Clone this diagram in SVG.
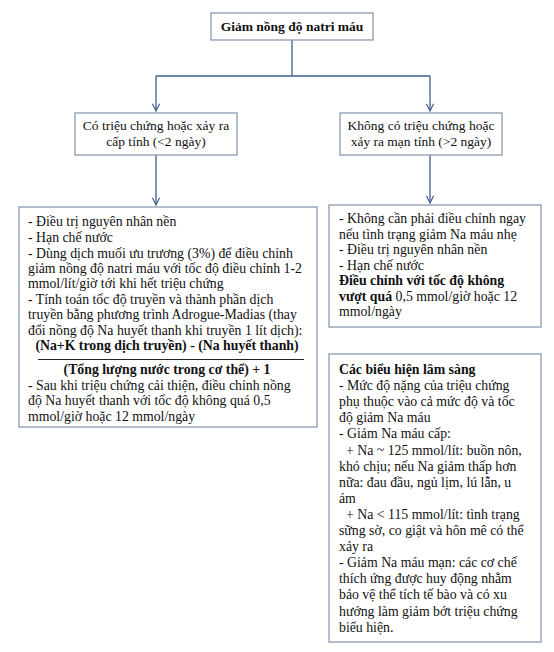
<svg xmlns="http://www.w3.org/2000/svg" width="554" height="652" viewBox="0 0 554 652">
<style>
.box{fill:#fff;stroke:#8a9ab0;stroke-width:1.3}
.t{font-family:"Liberation Serif","Times New Roman","DejaVu Serif",serif;font-size:13.8px;fill:#111}
.h{font-size:13.5px}
.b{font-weight:bold}
.c{text-anchor:middle}
.ln{fill:none;stroke:#3f5f8f;stroke-width:1.3}
</style>
<defs>
<marker id="ar" viewBox="0 0 10 10" refX="9" refY="5" markerWidth="9" markerHeight="9" markerUnits="userSpaceOnUse" orient="auto">
<path d="M1,1 L9,5 L1,9" fill="none" stroke="#3f5f8f" stroke-width="1.3"/>
</marker>
</defs>
<rect width="554" height="652" fill="#fff"/>
<g id="connectors">
<path class="ln" d="M292,39 V76 M156,76 H430"/>
<path class="ln" d="M156,76 V111" marker-end="url(#ar)"/>
<path class="ln" d="M430,76 V111" marker-end="url(#ar)"/>
<path class="ln" d="M156,155 V205" marker-end="url(#ar)"/>
<path class="ln" d="M430,155 V203" marker-end="url(#ar)"/>
</g>
<g id="root">
<rect class="box" x="211" y="13" width="162" height="27"/>
<text class="t h b c" x="292" y="31">Giảm nồng độ natri máu</text>
</g>
<g id="acute">
<rect class="box" x="75" y="113" width="162" height="42"/>
<text class="t h c" x="156" y="130">Có triệu chứng hoặc xảy ra</text>
<text class="t h c" x="156" y="146">cấp tính (&lt;2 ngày)</text>
</g>
<g id="chronic">
<rect class="box" x="340" y="113" width="162" height="42"/>
<text class="t h c" x="421" y="130">Không có triệu chứng hoặc</text>
<text class="t h c" x="421" y="146">xảy ra mạn tính (&gt;2 ngày)</text>
</g>
<g id="acute-treatment">
<rect class="box" x="19" y="207" width="298" height="220"/>
<text class="t" x="28" y="226">- Điều trị nguyên nhân nền</text>
<text class="t" x="28" y="241.5">- Hạn chế nước</text>
<text class="t" x="28" y="257.5">- Dùng dịch muối ưu trương (3%) để điều chỉnh</text>
<text class="t" x="28" y="272.5">giảm nồng độ natri máu với tốc độ điều chỉnh 1-2</text>
<text class="t" x="28" y="288">mmol/lít/giờ tới khi hết triệu chứng</text>
<text class="t" x="28" y="303.5">- Tính toán tốc độ truyền và thành phần dịch</text>
<text class="t" x="28" y="319">truyền bằng phương trình Adrogue-Madias (thay</text>
<text class="t" x="28" y="334.5">đổi nồng độ Na huyết thanh khi truyền 1 lít dịch):</text>
<text class="t b c" x="167" y="350">(Na+K trong dịch truyền) - (Na huyết thanh)</text>
<path d="M38,359.5 H304" stroke="#222" stroke-width="1"/>
<text class="t b c" x="167" y="374">(Tổng lượng nước trong cơ thể) + 1</text>
<text class="t" x="28" y="389.5">- Sau khi triệu chứng cải thiện, điều chỉnh nồng</text>
<text class="t" x="28" y="405">độ Na huyết thanh với tốc độ không quá 0,5</text>
<text class="t" x="28" y="420.5">mmol/giờ hoặc 12 mmol/ngày</text>
</g>
<g id="chronic-treatment">
<rect class="box" x="329" y="205" width="212" height="122"/>
<text class="t" x="339" y="223">- Không cần phải điều chỉnh ngay</text>
<text class="t" x="339" y="238.5">nếu tình trạng giảm Na máu nhẹ</text>
<text class="t" x="339" y="254">- Điều trị nguyên nhân nền</text>
<text class="t" x="339" y="269.5">- Hạn chế nước</text>
<text class="t" x="339" y="285"><tspan class="b">Điều chỉnh với tốc độ không</tspan></text>
<text class="t" x="339" y="300.5"><tspan class="b">vượt quá</tspan> 0,5 mmol/giờ hoặc 12</text>
<text class="t" x="339" y="316">mmol/ngày</text>
</g>
<g id="clinical">
<rect class="box" x="329" y="354" width="212" height="288"/>
<text class="t b" x="339" y="374">Các biểu hiện lâm sàng</text>
<text class="t" x="339" y="390.1">- Mức độ nặng của triệu chứng</text>
<text class="t" x="339" y="406.2">phụ thuộc vào cả mức độ và tốc</text>
<text class="t" x="339" y="422.3">độ giảm Na máu</text>
<text class="t" x="339" y="438.4">- Giảm Na máu cấp:</text>
<text class="t" x="346" y="454.5">+ Na ~ 125 mmol/lít: buồn nôn,</text>
<text class="t" x="339" y="470.6">khó chịu; nếu Na giảm thấp hơn</text>
<text class="t" x="339" y="486.7">nữa: đau đầu, ngủ lịm, lú lẫn, u</text>
<text class="t" x="339" y="502.8">ám</text>
<text class="t" x="346" y="518.9">+ Na &lt; 115 mmol/lít: tình trạng</text>
<text class="t" x="339" y="535">sững sờ, co giật và hôn mê có thể</text>
<text class="t" x="339" y="551.1">xảy ra</text>
<text class="t" x="339" y="567.2">- Giảm Na máu mạn: các cơ chế</text>
<text class="t" x="339" y="583.3">thích ứng được huy động nhằm</text>
<text class="t" x="339" y="599.4">bảo vệ thể tích tế bào và có xu</text>
<text class="t" x="339" y="615.5">hướng làm giảm bớt triệu chứng</text>
<text class="t" x="339" y="631.6">biểu hiện.</text>
</g>
</svg>
